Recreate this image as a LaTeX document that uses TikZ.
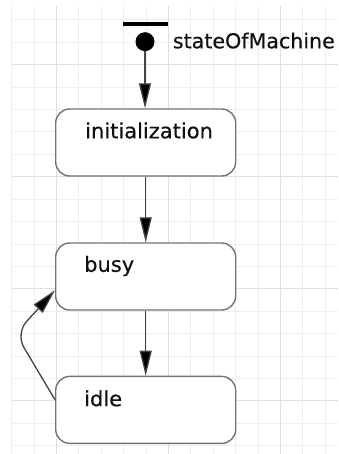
\documentclass[tikz,border=0pt]{standalone}
\usepackage{fontspec}
\setmainfont{DejaVu Sans}[FakeBold=0.35]
\usetikzlibrary{arrows.meta,calc}
\definecolor{gridminor}{HTML}{EEEEEE}
\definecolor{gridmajor}{HTML}{DFDFDF}
\definecolor{boxline}{HTML}{737373}
\definecolor{conn}{HTML}{444444}
\definecolor{txt}{HTML}{111111}
\begin{document}
\begin{tikzpicture}[x=1pt,y=-1pt,
  statebox/.style={draw=boxline,line width=1.4pt,fill=white,rounded corners=14pt,
    minimum width=180pt,minimum height=67pt,inner sep=0pt,anchor=north west},
  statelabel/.style={anchor=base west,inner sep=0pt,text=txt,font=\fontsize{21}{25}\selectfont},
  trans/.style={draw=conn,line width=1.3pt,-{Triangle[length=25pt,width=12pt,fill=black]}}]
\clip (0,0) rectangle (338,454);
\fill[white] (0,0) rectangle (338,454);
% grid
\foreach \i in {0,...,14}{
  \draw[gridminor,line width=1pt] ({11.7+22.4*\i},6) -- ({11.7+22.4*\i},454);
}
\foreach \j in {0,...,19}{
  \draw[gridminor,line width=1pt] (11.7,{20+22.4*\j}) -- (338,{20+22.4*\j});
}
\foreach \i in {0,1,2}{
  \draw[gridmajor,line width=1pt] ({56.5+112*\i},6) -- ({56.5+112*\i},454);
}
\foreach \j in {0,1,2,3}{
  \draw[gridmajor,line width=1pt] (11.7,{64.8+112*\j}) -- (338,{64.8+112*\j});
}
% initial pseudostate
\node[fill=black,minimum width=45pt,minimum height=4pt,inner sep=0pt] (bar) at (145,24) {};
\node[circle,fill=black,minimum size=19pt,inner sep=0pt] (start) at (145,41.7) {};
\node[statelabel,font=\fontsize{20.6}{25}\selectfont] (machine) at (172.7,48.3) {stateOfMachine};
% states
\node[statebox] (init) at (55,108.3) {};
\node[statebox] (busy) at (55,242.3) {};
\node[statebox] (idle) at (55,375.7) {};
\node[statelabel] (initlabel) at ($(init.north west)+(30,30)$) {initialization};
\node[statelabel] (busylabel) at ($(busy.north west)+(29,29.5)$) {busy};
\node[statelabel] (idlelabel) at ($(idle.north west)+(29,30.5)$) {idle};
% transitions
\draw[trans] (start.south) -- (start.south |- init.north);
\draw[trans] (init.south) -- (busy.north);
\draw[trans] (busy.south) -- (idle.north);
\coordinate (bend) at (15.6,333.5);
\draw[trans,rounded corners=16pt] ($(idle.north west)+(0,24)$) -- (bend) -- ($(busy.north west)+(0,48)$);
\end{tikzpicture}
\end{document}
